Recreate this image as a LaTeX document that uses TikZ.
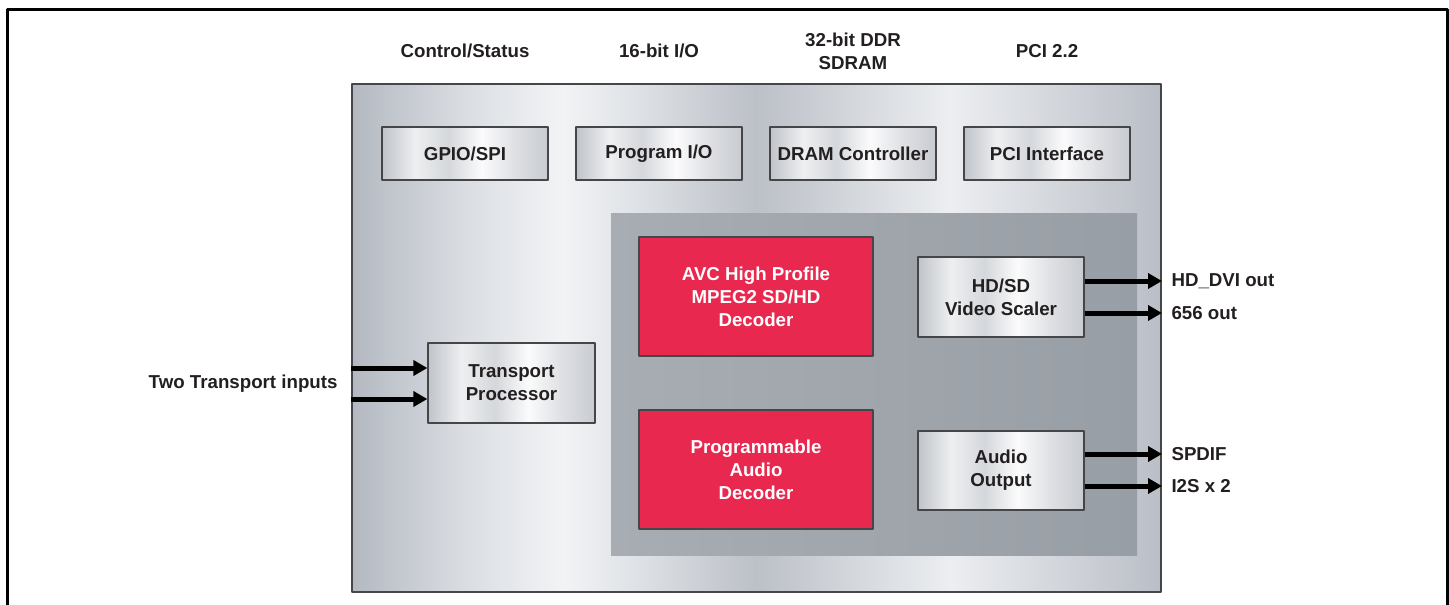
\documentclass[tikz,border=0pt]{standalone}
\usepackage{fontspec}
\setmainfont{Liberation Sans}
\usetikzlibrary{arrows.meta}
\definecolor{txt}{RGB}{35,31,32}
\definecolor{edge}{RGB}{70,70,72}
\definecolor{avcred}{RGB}{232,40,78}
\definecolor{cha}{RGB}{180,184,192}
\definecolor{chb}{RGB}{218,222,227}
\definecolor{chc}{RGB}{242,243,245}
\definecolor{chd}{RGB}{225,228,232}
\definecolor{che}{RGB}{188,192,199}
\definecolor{chf}{RGB}{236,238,241}
\definecolor{chg}{RGB}{186,190,198}
\definecolor{sva}{RGB}{192,196,201}
\definecolor{svb}{RGB}{238,239,241}
\definecolor{svc}{RGB}{212,215,219}
\definecolor{svd}{RGB}{251,251,252}
\definecolor{sve}{RGB}{222,224,228}
\definecolor{svf}{RGB}{200,203,208}
\definecolor{pna}{RGB}{168,173,179}
\definecolor{pnb}{RGB}{152,158,165}
\pgfdeclarehorizontalshading{chipmetal}{100bp}{color(0bp)=(cha); color(25bp)=(cha); color(32bp)=(chb); color(38bp)=(chc); color(42bp)=(chd); color(50bp)=(che); color(62bp)=(chf); color(75bp)=(chg); color(100bp)=(chg)}
\pgfdeclarehorizontalshading{silver}{100bp}{color(0bp)=(sva); color(25bp)=(sva); color(35bp)=(svb); color(45bp)=(svc); color(55bp)=(svd); color(65bp)=(sve); color(75bp)=(svf); color(100bp)=(svf)}
\begin{document}
\begin{tikzpicture}[x=1pt,y=-1pt,line join=round,
  font=\fontsize{18.7}{23}\selectfont\bfseries,text=txt]
  \tikzset{
    box/.style={draw=edge,line width=1.2pt,inner sep=0pt,align=center,shade,shading=silver},
    dec/.style={draw=edge,line width=1.2pt,fill=avcred,text=white,inner sep=0pt,align=center,
      minimum width=234,minimum height=119},
    bus/.style={line width=5pt,-{Triangle[length=14pt,width=15pt]}},
  }
  \useasboundingbox (0,0) rectangle (1449,605);
  % frame, open at the bottom
  \draw[line width=3pt] (7,620) -- (7,9) -- (1447,9) -- (1447,620);
  % chip and decoder area
  \node[draw=edge,line width=2pt,shade,shading=chipmetal,inner sep=0pt,
    minimum width=809,minimum height=508] (chip) at (756.5,338) {};
  \node[left color=pna,right color=pnb,inner sep=0pt,
    minimum width=526,minimum height=342] (core) at (874,384) {};
  % top row blocks and their signals
  \foreach \x/\name/\txt/\sig in {465/gpio/{GPIO/SPI}/{Control/Status},
      659/pio/{Program I/O}/{16-bit I/O},
      853/dram/{DRAM Controller}/{32-bit DDR\\SDRAM},
      1047/pci/{PCI Interface}/{PCI 2.2}}{
    \node[box,minimum width=166,minimum height=53] (\name) at (\x,153.5) {\txt};
    \node[align=center] (\name-sig) at (\x,51) {\sig};
  }
  \node[box,minimum width=167,minimum height=80] (tp) at (511.5,383) {Transport\\Processor};
  \node[dec] (avc) at (756,296.5) {AVC High Profile\\MPEG2 SD/HD\\Decoder};
  \node[dec] (aud) at (756,469.5) {Programmable\\Audio\\Decoder};
  \node[box,minimum width=166,minimum height=80] (vs) at (1001,297) {HD/SD\\Video Scaler};
  \node[box,minimum width=166,minimum height=79] (ao) at (1001,470.5) {Audio\\Output};
  % inputs
  \node[anchor=east] (tin) at (341,384) {Two Transport inputs};
  \foreach \y [count=\i] in {368,399}{
    \coordinate (in\i) at (chip.west |- 0,\y);
    \draw[bus] (in\i) -- (in\i -| tp.west);
  }
  % outputs
  \foreach \src/\y/\lab [count=\i] in {vs/281/HD\_DVI out,vs/313/656 out,ao/454/SPDIF,ao/486/I2S x 2}{
    \coordinate (out\i) at (chip.east |- 0,\y);
    \draw[bus] (\src.east |- out\i) -- (out\i);
    \node[anchor=west] (out\i-lab) at (1168,\y) {\lab};
  }
\end{tikzpicture}
\end{document}
